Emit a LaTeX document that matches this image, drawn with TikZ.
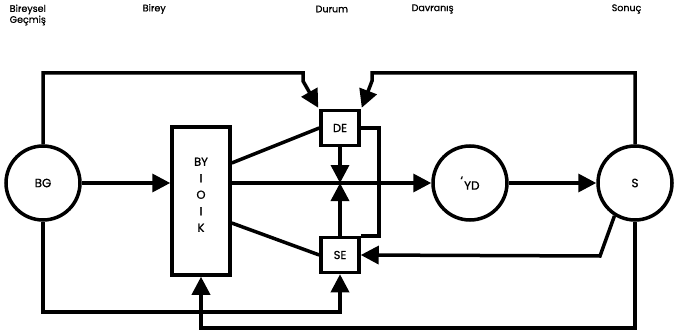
\documentclass[tikz,border=0pt]{standalone}
\usepackage{fontspec}
\setmainfont{Poppins}[FakeBold=0.8]
\usetikzlibrary{arrows.meta}
\begin{document}
\begin{tikzpicture}[x=1pt,y=-1pt,
  line width=3.5pt,
  lbl/.style={font=\fontsize{9.5}{11}\selectfont, inner sep=0pt},
  circ/.style={draw, circle, minimum size=74pt, inner sep=0pt, font=\fontsize{12}{13}\selectfont},
  sq/.style={draw, rectangle, minimum width=38pt, minimum height=35pt, inner sep=0pt, font=\fontsize{11.5}{12}\selectfont},
  arr/.style={-{Triangle[length=18pt,width=18pt]}}]
\useasboundingbox (0,0) rectangle (674,334);
% labels
\node[lbl, anchor=west, align=left] (l1) at (8,15) {Bireysel\\Geçmiş};
\node[lbl, anchor=west] (l2) at (141,9) {Birey};
\node[lbl, anchor=west] (l3) at (314,9) {Durum};
\node[lbl, anchor=west] (l4) at (410,9) {Davranış};
\node[lbl, anchor=west] (l5) at (610,9) {Sonuç};
% nodes
\node[circ] (BG) at (43,183) {BG};
\node[draw, rectangle, minimum width=58pt, minimum height=148pt, inner sep=0pt,
      font=\fontsize{11.5}{16.5}\selectfont, align=center] (box) at (201,201)
      {BY\\I\\O\\I\\K\\[-4pt]};
\node[sq] (DE) at (340,128) {DE};
\node[sq] (SE) at (340,255) {SE};
\node[circ] (YD) at (470,183) {\raisebox{5pt}{`}\kern1pt YD};
\node[circ] (S) at (635,183) {S};
\coordinate (J) at (340,183);
\coordinate (bl) at (0,312);
\coordinate (bl2) at (0,328);
\coordinate (tl) at (303,73);
\coordinate (tr) at (372,73);
\coordinate (sk) at (600,256);
% connectors
\draw[arr] (BG.east) -- (box.west |- BG.east);
\draw[arr] (box.east |- J) -- (YD.west);
\draw[arr] (YD.east) -- (S.west);
\draw[arr] (DE.south) -- (J);
\draw[arr] (SE.north) -- (J);
\draw ([yshift=38pt]box.east) -- ([yshift=0pt]DE.west);
\draw ([yshift=-22pt]box.east) -- (SE.west);
\draw (DE.east) -- ++(18,0) |- (SE.north east);
\draw[arr] (S.238) -- (sk) -- (SE.east);
\draw[arr] (S.south) -- (S.south |- bl2) -| (box.south);
\draw[arr] (BG.south) |- (SE.south |- bl) -- (SE.south);
\draw[arr] (BG.north) |- (tl) -- ++(0,8) -- ([xshift=-1pt,yshift=1pt]DE.north west);
\draw[arr] (S.north) |- (tr) -- ++(0,8) -- ([xshift=1pt,yshift=1pt]DE.north east);
\end{tikzpicture}
\end{document}
